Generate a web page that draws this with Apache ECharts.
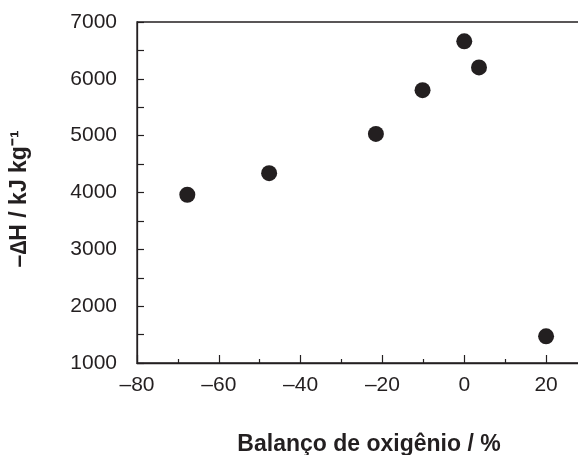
<!DOCTYPE html>
<html>
<head>
<meta charset="utf-8">
<script src="https://cdn.jsdelivr.net/npm/echarts@6/dist/echarts.min.js"></script>
<style>
  html, body { margin: 0; padding: 0; background: #fff; }
  #chart { width: 578px; height: 455px; }
</style>
</head>
<body>
<div id="chart"></div>
<script>
// balanço de oxigênio (%) vs -ΔH (kJ/kg)
var balanco = [-67.7, -47.7, -21.6, -10.2, 0, 3.6, 20];
var entalpia = [3960, 4340, 5030, 5800, 6660, 6200, 1470];

var ink = '#231f20';
var font = '"Liberation Sans", Arial, sans-serif';

var pontos = [];
for (var i = 0; i < balanco.length; i++) {
  pontos.push([balanco[i], entalpia[i]]);
}

var myChart = echarts.init(document.getElementById('chart'));

var options = {
  animation: false,
  grid: {
    left: 137,
    top: 22,
    bottom: 92,
    right: -9,
    outerBoundsMode: 'none',
    show: true,
    borderColor: ink,
    borderWidth: 1.3
  },
  xAxis: {
    type: 'value',
    min: -80,
    max: 30,
    interval: 20,
    axisLine: { onZero: false, lineStyle: { color: ink, width: 1.3 } },
    axisTick: { inside: true, length: 8, lineStyle: { color: ink, width: 1.2 } },
    minorTick: { show: true, splitNumber: 2, length: 4, lineStyle: { color: ink, width: 1.2 } },
    splitLine: { show: false },
    axisLabel: {
      color: ink,
      fontFamily: font,
      fontSize: 21,
      margin: 12,
      showMaxLabel: false,
      formatter: function (v) { return v < 0 ? '\u2013' + Math.abs(v) : String(v); }
    }
  },
  yAxis: {
    type: 'value',
    min: 1000,
    max: 7000,
    interval: 1000,
    axisLine: { show: true, onZero: false, lineStyle: { color: ink, width: 1.3 } },
    axisTick: { show: true, inside: true, length: 7, lineStyle: { color: ink, width: 1.2 } },
    minorTick: { show: true, splitNumber: 2, length: 7, lineStyle: { color: ink, width: 1.2 } },
    splitLine: { show: false },
    axisLabel: {
      color: ink,
      fontFamily: font,
      fontSize: 21,
      margin: 20,
      formatter: function (v) { return String(v); }
    }
  },
  graphic: [
    {
      type: 'text',
      x: 369,
      y: 445,
      style: {
        text: 'Balanço de oxigênio / %',
        fill: ink,
        font: 'bold 23px ' + font,
        align: 'center',
        verticalAlign: 'middle'
      }
    },
    {
      type: 'text',
      x: 20,
      y: 199,
      rotation: Math.PI / 2,
      style: {
        text: '\u2013\u2206H / kJ kg\u207B\u00B9',
        fill: ink,
        font: 'bold 23px ' + font,
        align: 'center',
        verticalAlign: 'middle'
      }
    }
  ],
  series: [{
    type: 'scatter',
    data: pontos,
    symbolSize: 16,
    itemStyle: { color: ink, opacity: 1 }
  }]
};

myChart.setOption(options);
</script>
</body>
</html>
